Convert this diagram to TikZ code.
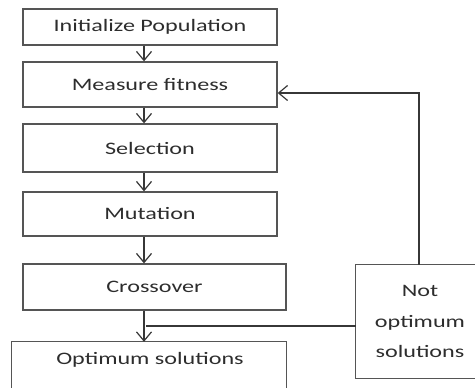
\documentclass[tikz,border=0pt]{standalone}
\usepackage{fontspec}
\setmainfont[FakeStretch=1.38]{Carlito}
\usetikzlibrary{arrows.meta}
\definecolor{boxline}{RGB}{85,85,85}
\definecolor{conline}{RGB}{55,55,55}
\definecolor{txt}{RGB}{45,45,45}
\begin{document}
\begin{tikzpicture}[x=1pt,y=-1pt,
  lbl/.style={rectangle,inner sep=0pt,text=txt,font=\fontsize{17.5}{30.5}\selectfont},
  box/.style={lbl,draw=boxline,line width=1.3pt},
  frame/.style={draw=boxline,line width=1.3pt},
  arr/.style={draw=conline,line width=1.2pt,
    -{Straight Barb[length=9pt,width=15pt,line width=1.2pt]}},
  con/.style={draw=conline,line width=1.2pt}]
\useasboundingbox (0,0) rectangle (475,388);
\begin{scope}
\clip (0,0) rectangle (475,388);
\node[box,minimum width=254pt,minimum height=36pt] (init) at (150,27) {Initialize Population};
\node[box,minimum width=254pt,minimum height=45pt] (meas) at (150,84.5) {Measure fitness};
\node[box,minimum width=254pt,minimum height=48pt] (sel) at (150,148) {Selection};
\node[box,minimum width=254pt,minimum height=44pt] (mut) at (150,214) {Mutation};
\node[box,minimum width=263pt,minimum height=46pt] (cross) at (154.5,287) {Crossover};
\node[lbl,minimum width=274pt,minimum height=60pt] (opt) at (149,372) {};
\node[lbl] (optt) at (150,360) {Optimum solutions};
\node[lbl,minimum width=128pt,minimum height=113pt,align=center] (notopt) at (420,321.5) {Not\\optimum\\solutions};
\draw[frame] (opt.south west) -- (opt.north west) -- (opt.north east) -- (opt.south east);
\draw[frame] (notopt.north east) -- (notopt.north west) -- (notopt.south west) -- (notopt.south east);
\end{scope}
\coordinate (col) at (144,0);
\coordinate (fbk) at (419,93);
\coordinate (join) at (146,326);
\draw[arr] (init.south -| col) -- (meas.north -| col);
\draw[arr] (meas.south -| col) -- (sel.north -| col);
\draw[arr] (sel.south -| col) -- (mut.north -| col);
\draw[arr] (mut.south -| col) -- (cross.north -| col);
\draw[arr] (cross.south -| col) -- (opt.north -| col);
\draw[con] (notopt.west |- join) -- (join);
\draw[arr] (notopt.north -| fbk) -- (fbk) -- (meas.east |- fbk);
\end{tikzpicture}
\end{document}
